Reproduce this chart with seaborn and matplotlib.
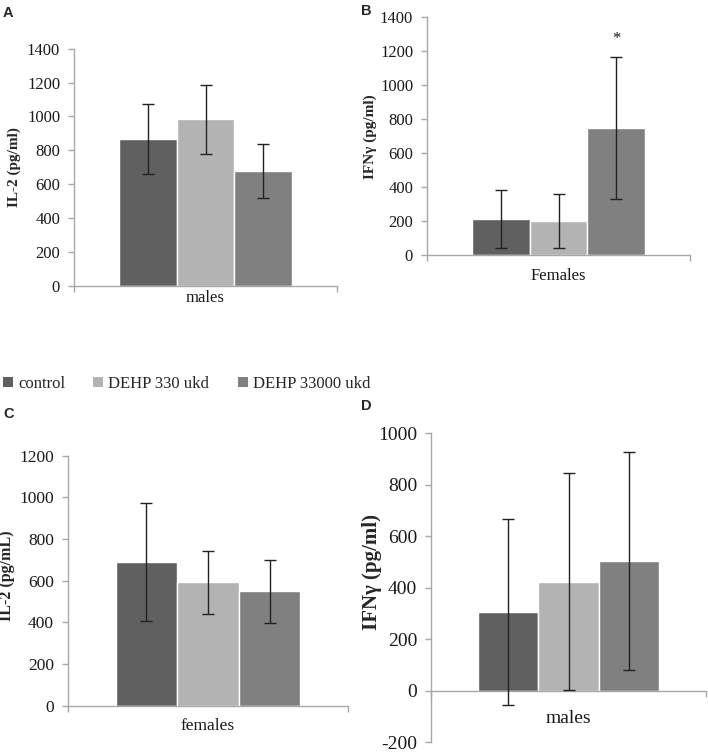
import matplotlib
matplotlib.use("Agg")
import matplotlib.pyplot as plt
from matplotlib.patches import Patch
from matplotlib.ticker import FixedLocator
import seaborn as sns
import pandas as pd

# treatment groups and bar colours
treatments = ['control', 'DEHP 330 ukd', 'DEHP 33000 ukd']
colors = ['#606060', '#b3b3b3', '#808080']

# panel A: IL-2, males
a_mean = [867, 983, 677]
a_sd = [205, 205, 160]
# panel B: IFNy, females
b_mean = [215, 202, 747]
b_sd = [172, 158, 418]
# panel C: IL-2, females
c_mean = [691, 592, 549]
c_sd = [283, 150, 150]
# panel D: IFNy, males
d_mean = [307, 424, 504]
d_sd = [362, 420, 425]

sns.set_theme(style="white")
plt.rcParams['font.family'] = ['Liberation Serif', 'DejaVu Serif']
plt.rcParams['axes.unicode_minus'] = False

pal = dict(zip(treatments, colors))
spine_col = '#a8a8a8'

fig = plt.figure(figsize=(7.08, 7.52), dpi=100)


def px_axes(left, right, top, bottom):
    W, H = 708, 752
    return fig.add_axes([left / W, 1 - bottom / H, (right - left) / W, (bottom - top) / H])


def panel(ax, group, means, sds, ylabel, ymin, ymax, step, tick_fs, lab_fs, xpad, labx):
    df = pd.DataFrame({'group': [group] * 3, 'treatment': treatments, 'value': means})
    sns.barplot(data=df, x='group', y='value', hue='treatment', hue_order=treatments,
                palette=pal, width=0.66, errorbar=None, edgecolor='white',
                linewidth=1.0, legend=False, ax=ax)
    for p, m, s in zip(ax.patches, means, sds):
        xc = p.get_x() + p.get_width() / 2
        ax.errorbar(xc, m, yerr=s, fmt='none', ecolor='#222222', elinewidth=1.0,
                    capsize=4, capthick=1.0, zorder=5)
    ax.set_xlim(-0.5, 0.5)
    ax.set_ylim(ymin, ymax)
    ax.set_yticks(list(range(ymin, ymax + 1, step)))
    ax.set_xlabel('')
    ax.set_ylabel(ylabel, fontsize=lab_fs, fontweight='bold')
    ax.yaxis.set_label_coords(labx, 0.5)
    for side in ['top', 'right']:
        ax.spines[side].set_visible(False)
    for side in ['left', 'bottom']:
        ax.spines[side].set_color(spine_col)
        ax.spines[side].set_linewidth(1.0)
    ax.tick_params(axis='y', which='major', left=True, length=4, width=1.0,
                   color=spine_col, pad=6, labelsize=tick_fs, labelcolor='#1a1a1a')
    ax.tick_params(axis='x', which='major', bottom=True, length=0, pad=xpad,
                   labelsize=tick_fs, labelcolor='#1a1a1a')
    ax.xaxis.set_minor_locator(FixedLocator([-0.5, 0.5]))
    ax.tick_params(axis='x', which='minor', bottom=True, length=4, width=1.0,
                   color=spine_col)
    ax.grid(False)


axA = px_axes(74, 337, 48.7, 286)
panel(axA, 'males', a_mean, a_sd, 'IL-2 (pg/ml)', 0, 1400, 200, 12, 11, 3, -0.2)

axB = px_axes(427, 690, 17.3, 255.3)
panel(axB, 'Females', b_mean, b_sd, 'IFN\u03b3 (pg/ml)', 0, 1400, 200, 12, 11, 9, -0.19)
p3 = axB.patches[2]
axB.text(p3.get_x() + p3.get_width() / 2, 1250, '*', ha='center', va='baseline',
         fontsize=12, color='#1a1a1a')

axC = px_axes(68, 348, 455.7, 705.7)
panel(axC, 'females', c_mean, c_sd, 'IL-2 (pg/mL)', 0, 1200, 200, 12.5, 11.5, 9, -0.19)
axC.yaxis.set_label_coords(-0.19, 0.52)

axD = px_axes(431, 706, 433.3, 742.3)
panel(axD, 'males', d_mean, d_sd, 'IFN\u03b3 (pg/ml)', -200, 1000, 200, 14, 15, 14, -0.18)
axD.spines['bottom'].set_position(('data', 0))
axD.yaxis.set_label_coords(-0.18, 0.55)

# panel letters
for lab, x, y in [('A', 3, 6), ('B', 361, 4), ('C', 3, 407), ('D', 361, 399)]:
    fig.text(x / 708, 1 - y / 752, lab, fontsize=10.5, fontweight='bold',
             family=['Liberation Sans', 'DejaVu Sans'], va='top', ha='left')

# shared legend
handles = [Patch(facecolor=c, edgecolor='none') for c in colors]
fig.legend(handles, treatments, loc='center left', bbox_to_anchor=(3 / 708, 1 - 384 / 752),
           ncol=3, frameon=False, fontsize=12, handlelength=0.6, handleheight=0.6,
           handletextpad=0.3, columnspacing=1.7, borderpad=0, borderaxespad=0)

fig.savefig('out.png', dpi=100)
